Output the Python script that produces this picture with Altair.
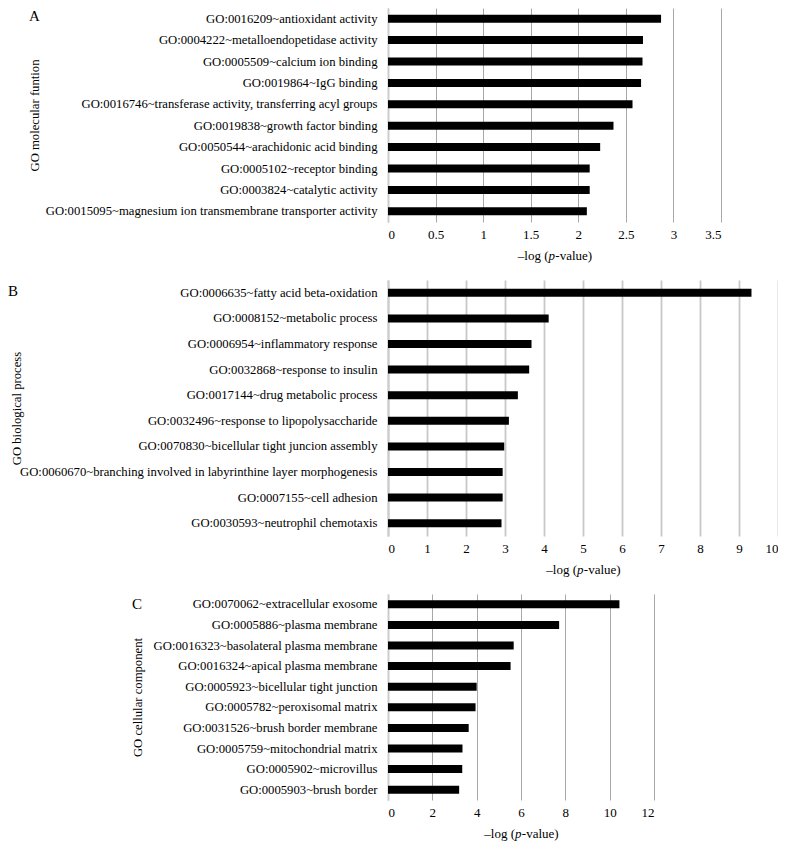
import altair as alt
import pandas as pd

FONT = "Liberation Serif"

# ---------------- data ----------------
a_terms = [
    "GO:0016209~antioxidant activity",
    "GO:0004222~metalloendopetidase activity",
    "GO:0005509~calcium ion binding",
    "GO:0019864~IgG binding",
    "GO:0016746~transferase activity, transferring acyl groups",
    "GO:0019838~growth factor binding",
    "GO:0050544~arachidonic acid binding",
    "GO:0005102~receptor binding",
    "GO:0003824~catalytic activity",
    "GO:0015095~magnesium ion transmembrane transporter activity",
]
a_values = [2.87, 2.68, 2.675, 2.66, 2.57, 2.37, 2.23, 2.12, 2.12, 2.09]
a_ticks = [0, 0.5, 1, 1.5, 2, 2.5, 3, 3.5]

b_terms = [
    "GO:0006635~fatty acid beta-oxidation",
    "GO:0008152~metabolic process",
    "GO:0006954~inflammatory response",
    "GO:0032868~response to insulin",
    "GO:0017144~drug metabolic process",
    "GO:0032496~response to lipopolysaccharide",
    "GO:0070830~bicellular tight juncion assembly",
    "GO:0060670~branching involved in labyrinthine layer morphogenesis",
    "GO:0007155~cell adhesion",
    "GO:0030593~neutrophil chemotaxis",
]
b_values = [9.32, 4.12, 3.68, 3.62, 3.33, 3.10, 2.98, 2.94, 2.94, 2.91]
b_ticks = [0, 1, 2, 3, 4, 5, 6, 7, 8, 9, 10]

c_terms = [
    "GO:0070062~extracellular exosome",
    "GO:0005886~plasma membrane",
    "GO:0016323~basolateral plasma membrane",
    "GO:0016324~apical plasma membrane",
    "GO:0005923~bicellular tight junction",
    "GO:0005782~peroxisomal matrix",
    "GO:0031526~brush border membrane",
    "GO:0005759~mitochondrial matrix",
    "GO:0005902~microvillus",
    "GO:0005903~brush border",
]
c_values = [10.44, 7.72, 5.67, 5.53, 4.00, 3.95, 3.64, 3.36, 3.35, 3.21]
c_ticks = [0, 2, 4, 6, 8, 10, 12]

panel_letters = ["A", "B", "C"]
y_titles = ["GO molecular funtion", "GO biological process", "GO cellular component"]
x_title_parts = ["\u2013log (", "p", "-value)"]

FS = 12.7


def panel(terms, values, ticks, letter, ytitle, width, height,
          grid_color, grid_width, letter_x, letter_y, title_x):
    df = pd.DataFrame({"term": terms, "value": values})
    xmax = ticks[-1]
    bars = alt.Chart(df).mark_bar(size=8, color="black").encode(
        x=alt.X(
            "value:Q",
            scale=alt.Scale(domain=[0, xmax], nice=False, zero=True),
            axis=alt.Axis(
                values=ticks, format=".1~f", grid=True, gridColor=grid_color,
                gridWidth=grid_width, ticks=False, domain=False,
                labelFont=FONT, labelFontSize=13, labelColor="black",
                labelPadding=6, title=None,
            ),
        ),
        y=alt.Y(
            "term:N", sort=terms,
            scale=alt.Scale(paddingInner=0, paddingOuter=0),
            axis=alt.Axis(
                title=ytitle, titleX=title_x, titleBaseline="middle",
                titleFont=FONT, titleFontSize=FS, titleFontWeight="normal",
                titleColor="black", labelFont=FONT, labelFontSize=FS,
                labelColor="black", labelPadding=11, labelLimit=500,
                ticks=False, domain=True, domainColor="#cccccc", domainWidth=2,
            ),
        ),
    )
    ldf = pd.DataFrame({"t": [letter]})
    let = alt.Chart(ldf).mark_text(
        align="left", baseline="alphabetic", font=FONT, fontSize=15, color="black"
    ).encode(text="t:N", x=alt.value(letter_x), y=alt.value(letter_y))

    cx = width / 2.0
    ty = height + 38
    p1 = alt.Chart(pd.DataFrame({"t": [x_title_parts[0]]})).mark_text(
        align="right", baseline="alphabetic", font=FONT, fontSize=13, color="black"
    ).encode(text="t:N", x=alt.value(cx - 6), y=alt.value(ty))
    p2 = alt.Chart(pd.DataFrame({"t": [x_title_parts[1]]})).mark_text(
        align="left", baseline="alphabetic", font=FONT, fontSize=13,
        fontStyle="italic", color="black"
    ).encode(text="t:N", x=alt.value(cx - 6), y=alt.value(ty))
    p3 = alt.Chart(pd.DataFrame({"t": [x_title_parts[2]]})).mark_text(
        align="left", baseline="alphabetic", font=FONT, fontSize=13, color="black"
    ).encode(text="t:N", x=alt.value(cx + 0.8), y=alt.value(ty))

    return alt.layer(bars, let, p1, p2, p3).properties(width=width, height=height)


A = panel(a_terms, a_values, a_ticks, panel_letters[0], y_titles[0], 333, 214,
          "#a8a8a8", 1, -359, 13, -354)
B = panel(b_terms, b_values, b_ticks, panel_letters[1], y_titles[1], 390, 256,
          "#c8c8c8", 1.8, -380, 16, -372)
C = panel(c_terms, c_values, c_ticks, panel_letters[2], y_titles[2], 266, 206,
          "#a8a8a8", 1, -256, 15, -251)

chart = alt.vconcat(A, B, C, spacing=58, bounds="flush").properties(
    padding=0, background="white"
).configure_view(stroke="transparent", strokeWidth=0)

chart.save("out.html", embed_options={"renderer": "svg", "actions": False})
